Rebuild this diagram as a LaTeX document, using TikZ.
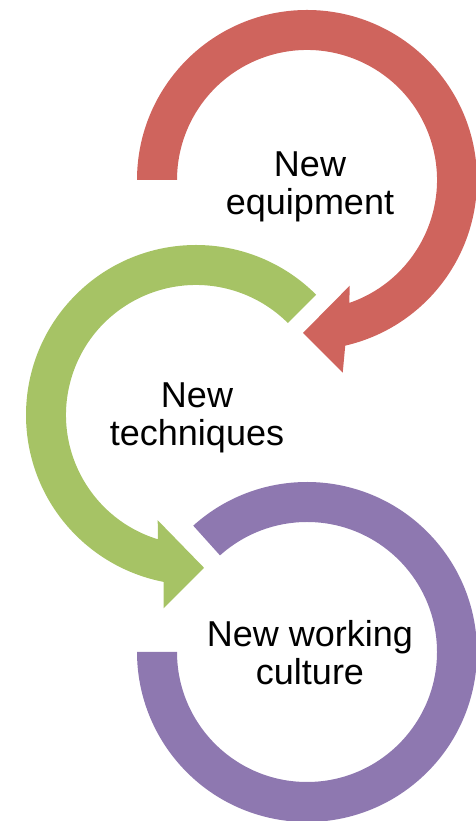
\documentclass[tikz,border=0pt]{standalone}
\usepackage{fontspec}
\setmainfont{Liberation Sans}
\usetikzlibrary{calc}
\definecolor{arrowred}{RGB}{207,100,93}
\definecolor{arrowgreen}{RGB}{166,195,101}
\definecolor{arrowpurple}{RGB}{142,120,176}
\begin{document}
\begin{tikzpicture}[x=1pt, y=1pt,
        lbl/.style={inner sep=0, align=center, anchor=north, font=\fontsize{36}{38}\selectfont}]
    \useasboundingbox (0,0) rectangle (476,821);
    \coordinate (ce) at (307,641);
    \coordinate (ct) at (196,406);
    \coordinate (cc) at (307,169);
    % red arrow
    \fill[arrowred] ($(ce)+(180:170)$) arc[start angle=180, end angle=-77, radius=170]
        -- ($(ce)+(-79.5:196)$) -- ($(ce)+(-91.5:153)$) -- ($(ce)+(-68:114)$)
        -- ($(ce)+(-71:130)$) arc[start angle=-71, end angle=180, radius=130] -- cycle;
    % green arrow
    \fill[arrowgreen] ($(ct)+(45:170)$) arc[start angle=45, end angle=259, radius=170]
        -- ($(ct)+(260.5:196)$) -- ($(ct)+(273:153)$) -- ($(ct)+(250:112)$)
        -- ($(ct)+(253:130)$) arc[start angle=253, end angle=45, radius=130] -- cycle;
    % purple ring
    \fill[arrowpurple] ($(cc)+(132:170)$) arc[start angle=132, end angle=-180, radius=170]
        -- ($(cc)+(180:130)$) arc[start angle=-180, end angle=132, radius=130] -- cycle;
    \node[lbl] (equip) at (310,669) {New\\equipment};
    \node[lbl] (tech) at (197,438) {New\\techniques};
    \node[lbl] (culture) at (310,201) {New working\\culture};
\end{tikzpicture}
\end{document}
